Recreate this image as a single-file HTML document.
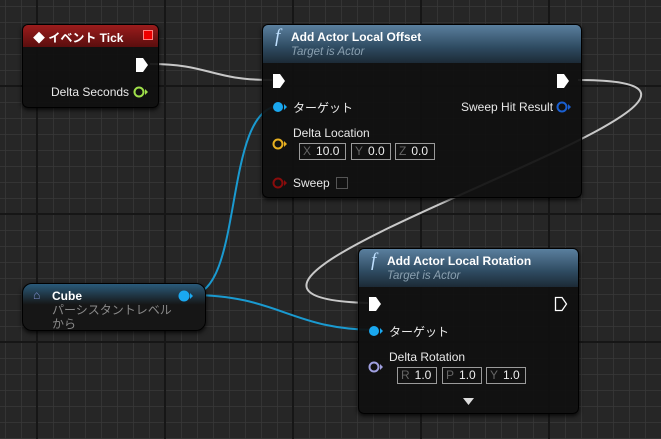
<!DOCTYPE html>
<html><head><meta charset="utf-8"><style>
body{margin:0;width:661px;height:439px;overflow:hidden;background:#262626;font-family:"Liberation Sans","Noto Sans CJK JP",sans-serif;}
#bg{position:absolute;left:0;top:0}
.node{position:absolute;background:rgba(16,16,16,0.93);border-radius:6px;box-shadow:0 2px 4px rgba(0,0,0,.8);border:1px solid #000;}
.hdr{position:absolute;left:0;top:0;right:0;border-radius:5px 5px 0 0;}
.t{position:absolute;color:#e8e8e8;font-size:12px;white-space:nowrap;}
.b{font-weight:bold;color:#fff;}
.sub{color:#8aa0b0;font-style:italic;font-size:11.5px;}
.box{position:absolute;border:1px solid #9a9a9a;height:15px;font-size:12px;color:#eee;line-height:15px;white-space:nowrap;}
.box i{font-style:normal;color:#666;margin:0 5px 0 3px;}
</style></head><body>
<svg id="bg" width="661" height="439">
<defs>
<pattern id="minor" x="5" y="6" width="16" height="16" patternUnits="userSpaceOnUse"><path d="M0 0H16M0 0V16" stroke="#383838" stroke-width="1.5" fill="none"/></pattern>
</defs>
<rect width="661" height="439" fill="#262626"/>
<rect width="661" height="439" fill="url(#minor)"/>
<g stroke="#161616" stroke-width="2">
<line x1="37" y1="0" x2="37" y2="439"/><line x1="165" y1="0" x2="165" y2="439"/><line x1="293" y1="0" x2="293" y2="439"/><line x1="421" y1="0" x2="421" y2="439"/><line x1="549" y1="0" x2="549" y2="439"/>
<line x1="0" y1="86" x2="661" y2="86"/><line x1="0" y1="214" x2="661" y2="214"/><line x1="0" y1="342" x2="661" y2="342"/>
</g>
<g fill="none" stroke-width="2">
<path d="M150,64 C210,64 210,80 272,80" stroke="#c8c8c8"/>
<path d="M578,80 C860,80 90,295 368,303" stroke="#c8c8c8"/>
<path d="M190,295 C245,295 222,106 280,106" stroke="#1a9ad0"/>
<path d="M190,295 C280,295 290,330 378,330" stroke="#1a9ad0"/>
</g>
</svg>

<!-- Event Tick -->
<div class="node" style="left:22px;top:24px;width:135px;height:82px;">
<div class="hdr" style="height:22px;background:linear-gradient(#9b1c1c,#5a0e0e);"></div>
<div class="t b" style="left:10px;top:4px;font-size:12px;">◆ イベント Tick</div>
<div style="position:absolute;left:120px;top:5px;width:8px;height:8px;border:1px solid #ff8080;background:#e00;"></div>
<svg style="position:absolute;left:112px;top:32px" width="15" height="16"><path d="M1 1H8L13 8L8 15H1Z" fill="#fff"/></svg>
<div class="t" style="left:28px;top:60px;">Delta Seconds</div>
<svg style="position:absolute;left:110px;top:60px" width="16" height="14"><circle cx="6" cy="7" r="4.5" fill="none" stroke="#9fe04a" stroke-width="2"/><path d="M12 4L15 7L12 10Z" fill="#9fe04a"/></svg>
</div>

<!-- Add Actor Local Offset -->
<div class="node" style="left:262px;top:24px;width:318px;height:172px;">
<div class="hdr" style="height:38px;background:linear-gradient(#5a7f9e,#2e4a60 60%,#1c2a36);"></div>
<div class="t" style="left:12px;top:1px;font-size:19px;font-style:italic;color:#bfe0ff;font-family:'Liberation Serif',serif;">f</div>
<div class="t b" style="left:28px;top:5px;">Add Actor Local Offset</div>
<div class="t sub" style="left:28px;top:21px;">Target is Actor</div>
<svg style="position:absolute;left:9px;top:48px" width="15" height="16"><path d="M1 1H8L13 8L8 15H1Z" fill="#fff"/></svg>
<svg style="position:absolute;left:293px;top:48px" width="15" height="16"><path d="M1 1H8L13 8L8 15H1Z" fill="#fff"/></svg>
<svg style="position:absolute;left:9px;top:75px" width="16" height="14"><circle cx="6" cy="7" r="5" fill="#1aa8f0"/><path d="M12 4L15 7L12 10Z" fill="#1aa8f0"/></svg>
<div class="t" style="left:30px;top:74px;">ターゲット</div>
<div class="t" style="left:198px;top:75px;">Sweep Hit Result</div>
<svg style="position:absolute;left:293px;top:75px" width="16" height="14"><circle cx="6" cy="7" r="4.5" fill="none" stroke="#1a5fd0" stroke-width="2"/><path d="M12 4L15 7L12 10Z" fill="#1a5fd0"/></svg>
<div class="t" style="left:30px;top:101px;">Delta Location</div>
<svg style="position:absolute;left:9px;top:112px" width="16" height="14"><circle cx="6" cy="7" r="4.5" fill="none" stroke="#e8b020" stroke-width="2"/><path d="M12 4L15 7L12 10Z" fill="#e8b020"/></svg>
<div class="box" style="left:36px;top:118px;width:45px;"><i>X</i>10.0</div>
<div class="box" style="left:88px;top:118px;width:38px;"><i>Y</i>0.0</div>
<div class="box" style="left:132px;top:118px;width:38px;"><i>Z</i>0.0</div>
<svg style="position:absolute;left:9px;top:151px" width="16" height="14"><circle cx="6" cy="7" r="4.5" fill="none" stroke="#8a0c0c" stroke-width="2"/><path d="M12 4L15 7L12 10Z" fill="#8a0c0c"/></svg>
<div class="t" style="left:30px;top:151px;">Sweep</div>
<div style="position:absolute;left:73px;top:152px;width:10px;height:10px;border:1px solid #555;"></div>
</div>

<!-- Add Actor Local Rotation -->
<div class="node" style="left:358px;top:248px;width:219px;height:164px;">
<div class="hdr" style="height:38px;background:linear-gradient(#5a7f9e,#2e4a60 60%,#1c2a36);"></div>
<div class="t" style="left:12px;top:1px;font-size:19px;font-style:italic;color:#bfe0ff;font-family:'Liberation Serif',serif;">f</div>
<div class="t b" style="left:28px;top:5px;">Add Actor Local Rotation</div>
<div class="t sub" style="left:28px;top:21px;">Target is Actor</div>
<svg style="position:absolute;left:9px;top:47px" width="15" height="16"><path d="M1 1H8L13 8L8 15H1Z" fill="#fff"/></svg>
<svg style="position:absolute;left:195px;top:47px" width="15" height="16"><path d="M1.5 1.5H8L12.5 8L8 14.5H1.5Z" fill="none" stroke="#fff" stroke-width="1.3"/></svg>
<svg style="position:absolute;left:9px;top:75px" width="16" height="14"><circle cx="6" cy="7" r="5" fill="#1aa8f0"/><path d="M12 4L15 7L12 10Z" fill="#1aa8f0"/></svg>
<div class="t" style="left:30px;top:74px;">ターゲット</div>
<div class="t" style="left:30px;top:101px;">Delta Rotation</div>
<svg style="position:absolute;left:9px;top:111px" width="16" height="14"><circle cx="6" cy="7" r="4.5" fill="none" stroke="#a0a0e0" stroke-width="2"/><path d="M12 4L15 7L12 10Z" fill="#a0a0e0"/></svg>
<div class="box" style="left:38px;top:118px;width:38px;"><i>R</i>1.0</div>
<div class="box" style="left:83px;top:118px;width:38px;"><i>P</i>1.0</div>
<div class="box" style="left:127px;top:118px;width:38px;"><i>Y</i>1.0</div>
<svg style="position:absolute;left:104px;top:148px" width="12" height="10"><path d="M0 1H11L5.5 8Z" fill="#ddd"/></svg>
</div>

<!-- Cube -->
<div class="node" style="left:22px;top:283px;width:182px;height:46px;border-radius:10px;background:linear-gradient(#2a5a7a,#161616 45%);">
<div class="t" style="left:10px;top:4px;color:#8090d0;font-size:12px;">⌂</div>
<div class="t b" style="left:29px;top:5px;">Cube</div>
<div class="t" style="left:29px;top:19px;color:#8a8a8a;line-height:14px;">パーシスタントレベル<br>から</div>
<svg style="position:absolute;left:155px;top:5px" width="16" height="14"><circle cx="6" cy="7" r="5.5" fill="#1aa8f0"/><path d="M12 4L15 7L12 10Z" fill="#1aa8f0"/></svg>
</div>
</body></html>
